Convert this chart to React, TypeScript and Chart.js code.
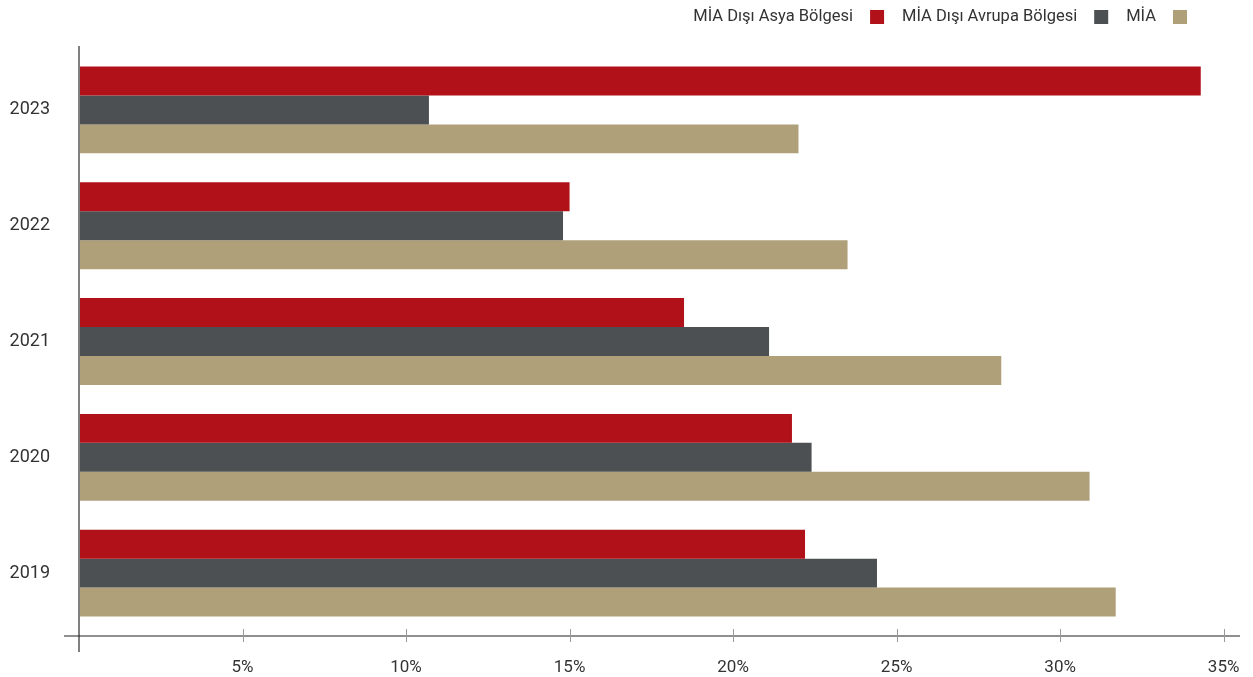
import React, { useEffect, useRef } from "react";
import { Chart, registerables } from "chart.js";

Chart.register(...registerables);

const years = ["2023", "2022", "2021", "2020", "2019"];
const seriesNames = ["MİA Dışı Asya Bölgesi", "MİA Dışı Avrupa Bölgesi", "MİA"];
const asiaValues = [34.3, 15.0, 18.5, 21.8, 22.2];
const europeValues = [10.7, 14.8, 21.1, 22.4, 24.4];
const miaValues = [22.0, 23.5, 28.2, 30.9, 31.7];
const xTickValues = [5, 10, 15, 20, 25, 30, 35];
const colors = ["#B11118", "#4D5052", "#AFA07A"];

const FONT = "Roboto, 'DejaVu Sans', sans-serif";

const decorPlugin = {
  id: "decor",
  afterDraw(chart: any) {
    const ctx = chart.ctx;
    const area = chart.chartArea;
    const xs = chart.scales.x;
    ctx.save();
    // vertical axis
    ctx.strokeStyle = "#808080";
    ctx.lineWidth = 2;
    ctx.beginPath();
    ctx.moveTo(area.left, 46);
    ctx.lineTo(area.left, 652);
    ctx.stroke();
    // horizontal axis
    ctx.strokeStyle = "#222";
    ctx.lineWidth = 1.2;
    ctx.beginPath();
    ctx.moveTo(64, 636);
    ctx.lineTo(area.right, 636);
    ctx.stroke();
    // ticks
    ctx.strokeStyle = "#999";
    ctx.lineWidth = 1;
    xTickValues.forEach((v) => {
      const px = Math.round(xs.getPixelForValue(v)) + 0.5;
      ctx.beginPath();
      ctx.moveTo(px, 629);
      ctx.lineTo(px, 642);
      ctx.stroke();
    });
    // legend (text followed by box), right aligned
    ctx.font = "16.5px " + FONT;
    ctx.textBaseline = "middle";
    ctx.textAlign = "right";
    let right = 1187;
    const boxSize = 14;
    const cy = 17;
    for (let i = seriesNames.length - 1; i >= 0; i--) {
      ctx.fillStyle = colors[i];
      ctx.fillRect(right - boxSize, cy - boxSize / 2, boxSize, boxSize);
      const textRight = right - boxSize - 17;
      ctx.fillStyle = "#333";
      ctx.fillText(seriesNames[i], textRight, cy);
      const w = ctx.measureText(seriesNames[i]).width;
      right = textRight - w - 18;
    }
    ctx.restore();
  },
};

export default function App() {
  const ref = useRef<HTMLCanvasElement | null>(null);
  useEffect(() => {
    document.body.style.margin = "0";
    const canvas = ref.current;
    if (!canvas) return;
    const chart = new Chart(canvas, {
      type: "bar",
      data: {
        labels: years,
        datasets: [
          { label: seriesNames[0], data: asiaValues, backgroundColor: colors[0] },
          { label: seriesNames[1], data: europeValues, backgroundColor: colors[1] },
          { label: seriesNames[2], data: miaValues, backgroundColor: colors[2] },
        ],
      },
      options: {
        indexAxis: "y",
        responsive: false,
        animation: false,
        layout: { padding: { top: 52, right: 13, left: 0, bottom: 0 } },
        datasets: { bar: { barPercentage: 1, categoryPercentage: 0.75 } },
        plugins: {
          legend: { display: false },
          tooltip: { enabled: false },
        },
        scales: {
          x: {
            type: "linear",
            min: 0,
            max: 35.5,
            grid: { display: false, drawTicks: false },
            border: { display: false },
            afterFit: (s: any) => {
              s.height = 46;
              s.paddingLeft = 0;
              s.paddingRight = 0;
            },
            afterBuildTicks: (s: any) => {
              s.ticks = xTickValues.map((v) => ({ value: v }));
            },
            ticks: {
              padding: 27,
              color: "#333",
              font: { family: FONT, size: 17 },
              maxRotation: 0,
              autoSkip: false,
              callback: (v: any) => v + "%",
            },
          },
          y: {
            grid: { display: false, drawTicks: false },
            border: { display: false },
            afterFit: (s: any) => {
              s.width = 79;
              s.paddingTop = 0;
              s.paddingBottom = 0;
            },
            ticks: {
              padding: 29,
              color: "#333",
              font: { family: FONT, size: 18 },
            },
          },
        },
      },
      plugins: [decorPlugin],
    });
    return () => chart.destroy();
  }, []);
  return <canvas ref={ref} width={1253} height={677} style={{ display: "block" }} />;
}
